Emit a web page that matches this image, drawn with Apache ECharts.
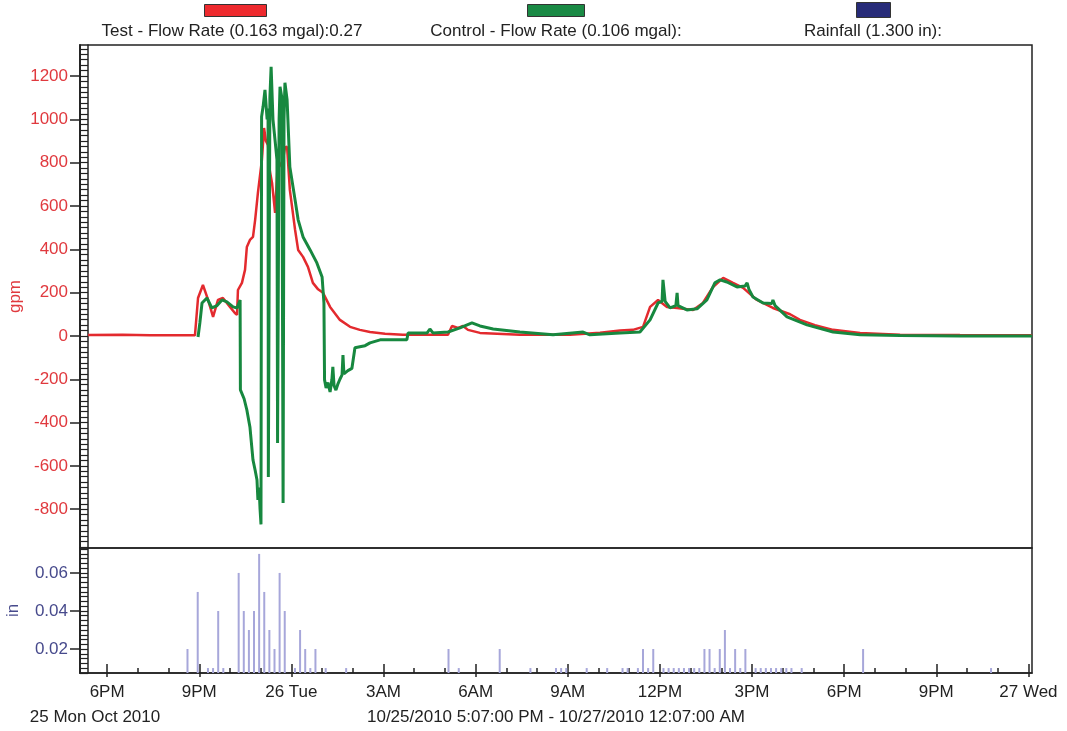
<!DOCTYPE html>
<html><head><meta charset="utf-8">
<script src="https://cdn.jsdelivr.net/npm/echarts@6/dist/echarts.min.js"></script>
<style>html,body{margin:0;padding:0;background:#fff}#c{width:1067px;height:731px}</style>
</head><body><div id="c"></div>
<script>
const FONT = '"Liberation Sans", Arial, Helvetica, sans-serif';

// time is expressed in hours since 10/25/2010 00:00
const startHour = 17 + 7 / 60;   // 10/25/2010 5:07 PM
const endHour = 48 + 7 / 60;     // 10/27/2010 12:07 AM
const xTickHours = [18, 21, 24, 27, 30, 33, 36, 39, 42, 45, 48];
const xTickLabels = ['6PM', '9PM', '26 Tue', '3AM', '6AM', '9AM', '12PM', '3PM', '6PM', '9PM', '27 Wed'];
const gpmTicks = [-800, -600, -400, -200, 0, 200, 400, 600, 800, 1000, 1200];
const gpmRange = [-979, 1343];
const inTicks = [0.02, 0.04, 0.06];
const inRange = [0.0074, 0.0731];

const legendNames = ['Test - Flow Rate (0.163 mgal):0.27', 'Control - Flow Rate (0.106 mgal):', 'Rainfall (1.300 in):'];

// Test - Flow Rate (gpm)
const testHours = [
  17.38, 18.50, 19.40, 20.86, 20.96, 21.12, 21.28, 21.45, 21.61, 21.77,
  22.00, 22.16, 22.23, 22.26, 22.39, 22.49, 22.55, 22.65, 22.75, 22.82,
  22.91, 23.04, 23.11, 23.17, 23.24, 23.30, 23.37, 23.47, 23.56, 23.69,
  23.79, 23.86, 23.95, 24.12, 24.22, 24.38, 24.54, 24.70, 24.87, 25.03,
  25.26, 25.58, 25.91, 26.23, 26.56, 27.05, 27.63, 29.10, 29.23, 29.43,
  29.59, 29.75, 30.14, 31.44, 33.07, 34.05, 34.70, 35.12, 35.45, 35.68,
  35.94, 36.23, 36.56, 37.08, 37.40, 37.73, 38.06, 38.38, 38.71, 39.16,
  39.68, 40.24, 40.56, 41.05, 41.64, 42.52, 43.82, 45.77, 48.12
];
const testGpm = [
  4, 6, 3, 3, 175, 235, 170, 88, 166, 175,
  134, 106, 97, 212, 245, 305, 411, 443, 457, 536,
  660, 813, 960, 900, 880, 760, 706, 568, 813, 780,
  870, 873, 674, 490, 397, 365, 319, 245, 215, 199,
  134, 74, 42, 28, 18, 10, 5, 5, 46, 37,
  46, 28, 14, 5, 5, 15, 25, 28, 42, 134,
  166, 134, 129, 120, 152, 226, 268, 245, 222, 166,
  129, 100, 74, 50, 28, 14, 6, 4, 3
];

// Control - Flow Rate (gpm)
const controlHours = [
  20.96, 21.02, 21.09, 21.25, 21.41, 21.58, 21.74, 21.90, 22.10, 22.23,
  22.33, 22.34, 22.46, 22.55, 22.65, 22.75, 22.82, 22.88, 22.91, 22.95,
  22.98, 23.01, 23.03, 23.08, 23.14, 23.21, 23.24, 23.25, 23.30, 23.34,
  23.40, 23.47, 23.53, 23.55, 23.60, 23.63, 23.69, 23.73, 23.76, 23.79,
  23.86, 23.95, 24.12, 24.22, 24.38, 24.61, 24.83, 25.00, 25.06, 25.08,
  25.13, 25.19, 25.26, 25.32, 25.35, 25.39, 25.45, 25.52, 25.58, 25.65,
  25.68, 25.71, 25.84, 25.97, 26.01, 26.07, 26.10, 26.23, 26.40, 26.56,
  26.89, 27.76, 27.80, 28.42, 28.51, 28.61, 29.10, 29.49, 29.88, 30.14,
  30.57, 31.44, 32.52, 33.50, 33.72, 34.70, 35.35, 35.68, 35.94, 36.07,
  36.10, 36.17, 36.33, 36.52, 36.56, 36.59, 36.88, 37.21, 37.53, 37.79,
  37.96, 38.18, 38.51, 38.77, 38.84, 38.90, 39.03, 39.36, 39.65, 39.68,
  39.75, 40.14, 40.79, 41.64, 42.52, 43.82, 45.77, 48.12
];
const controlGpm = [
  -5, 60, 152, 175, 129, 140, 166, 157, 134, 129,
  166, -249, -290, -342, -420, -573, -620, -665, -757, -700,
  -800, -870, 1012, 1060, 1136, 1000, 1050, -651, 1100, 1242,
  1000, 900, 813, -494, 1000, 1150, 1100, -771, 1000, 1169,
  1090, 780, 628, 536, 457, 397, 337, 272, 152, -203,
  -240, -215, -259, -200, -143, -230, -250, -220, -200, -180,
  -88, -175, -160, -150, -143, -55, -60, -50, -45, -32,
  -18, -18, 14, 14, 32, 14, 18, 37, 60, 46,
  32, 18, 5, 18, 5, 14, 18, 74, 152, 160,
  259, 160, 129, 140, 199, 140, 120, 125, 166, 245,
  259, 249, 226, 230, 245, 215, 180, 152, 150, 166,
  140, 88, 51, 18, 5, 2, 0, 0
];

// Rainfall (in), 10-minute totals, stamped "day hh:mm"
const rainTimes = [
  '25 20:37', '25 20:57', '25 21:17', '25 21:27', '25 21:37', '25 21:47', '25 22:17', '25 22:27', '25 22:37', '25 22:47',
  '25 22:57', '25 23:07', '25 23:17', '25 23:27', '25 23:37', '25 23:47', '26 00:07', '26 00:17', '26 00:27', '26 00:37',
  '26 00:47', '26 01:07', '26 01:47', '26 05:07', '26 05:27', '26 06:47', '26 07:47', '26 08:37', '26 08:47', '26 08:57',
  '26 09:37', '26 10:17', '26 10:47', '26 10:57', '26 11:17', '26 11:27', '26 11:37', '26 11:47', '26 12:07', '26 12:17',
  '26 12:27', '26 12:37', '26 12:47', '26 12:57', '26 13:07', '26 13:17', '26 13:27', '26 13:37', '26 13:47', '26 13:57',
  '26 14:07', '26 14:17', '26 14:27', '26 14:37', '26 14:47', '26 15:07', '26 15:17', '26 15:27', '26 15:37', '26 15:47',
  '26 15:57', '26 16:07', '26 16:17', '26 16:37', '26 18:37', '26 22:47'
];
const rainIn = [
  0.02, 0.05, 0.01, 0.01, 0.04, 0.01, 0.06, 0.04, 0.03, 0.04,
  0.07, 0.05, 0.03, 0.02, 0.06, 0.04, 0.01, 0.03, 0.02, 0.01,
  0.02, 0.01, 0.01, 0.02, 0.01, 0.02, 0.01, 0.01, 0.01, 0.01,
  0.01, 0.01, 0.01, 0.01, 0.01, 0.02, 0.01, 0.02, 0.01, 0.01,
  0.01, 0.01, 0.01, 0.01, 0.01, 0.01, 0.02, 0.02, 0.01, 0.02,
  0.03, 0.01, 0.02, 0.01, 0.02, 0.01, 0.01, 0.01, 0.01, 0.01,
  0.01, 0.01, 0.01, 0.01, 0.02, 0.01
];

function stampToHours(s) {
  const [d, hm] = s.split(' ');
  const [h, m] = hm.split(':').map(Number);
  return (Number(d) - 25) * 24 + h + m / 60;
}
const zip = (a, b) => a.map((v, i) => [v, b[i]]);

const hourTicks = [];
for (let h = 18; h <= 48; h++) hourTicks.push(h);
const gpmRungs = [];
for (let v = -975; v <= 1325; v += 25) gpmRungs.push(v);
const inRungs = [];
for (let v = 0.0075; v <= 0.0726; v += 0.0025) inRungs.push(+v.toFixed(4));

const INK = '#222';
const RED = '#e32a2e';
const GREEN = '#17883f';
const NAVY = '#272b78';
const RED_LABEL = '#e0393e';
const BLUE_LABEL = '#474a8c';
const FS = 17;

const chart = echarts.init(document.getElementById('c'), null, { renderer: 'canvas' });

const ladderAxis = (gridIndex, range, rungs) => ({
  type: 'value', gridIndex, min: range[0], max: range[1], position: 'left', offset: 0,
  axisLine: { show: true, onZero: false, lineStyle: { color: INK, width: 1.5 } },
  axisTick: { show: true, inside: true, length: 8, customValues: rungs, lineStyle: { color: INK, width: 1.2 } },
  axisLabel: { show: false }, splitLine: { show: false }
});
const innerLineAxis = (gridIndex, range) => ({
  type: 'value', gridIndex, min: range[0], max: range[1], position: 'left', offset: -8,
  axisLine: { show: true, onZero: false, lineStyle: { color: INK, width: 1.5 } },
  axisTick: { show: false }, axisLabel: { show: false }, splitLine: { show: false }
});
const bottomTickAxis = (ticks, inside, length) => ({
  type: 'value', gridIndex: 1, min: startHour, max: endHour, position: 'bottom', offset: 0,
  axisLine: { show: false, onZero: false },
  axisTick: { show: true, inside, length, customValues: ticks, lineStyle: { color: INK, width: 1.5 } },
  axisLabel: { show: false }, splitLine: { show: false }
});
const txt = (text, x, y) => ({
  type: 'text', x, y,
  style: { text, fill: INK, font: FS + 'px ' + FONT, align: 'center', verticalAlign: 'middle' }
});

const option = {
  animation: false,
  backgroundColor: '#fff',
  textStyle: { fontFamily: FONT },
  grid: [
    { left: 80, top: 45, width: 952, height: 503, show: true, borderColor: INK, borderWidth: 1.5,
      containLabel: false, outerBoundsMode: 'none' },
    { left: 80, top: 548, width: 952, height: 125, show: true, borderColor: INK, borderWidth: 1.5,
      containLabel: false, outerBoundsMode: 'none' }
  ],
  xAxis: [
    { type: 'value', gridIndex: 0, min: startHour, max: endHour, position: 'bottom', show: false },
    {
      type: 'value', gridIndex: 1, min: startHour, max: endHour, position: 'bottom', offset: 0,
      axisLine: { show: true, onZero: false, lineStyle: { color: INK, width: 1.5 } },
      axisTick: { show: true, inside: true, length: 9, customValues: xTickHours, lineStyle: { color: INK, width: 1.5 } },
      axisLabel: {
        show: true, customValues: xTickHours, margin: 11, fontSize: FS, color: INK, fontFamily: FONT,
        formatter: v => xTickLabels[xTickHours.indexOf(Math.round(v))] || ''
      },
      splitLine: { show: false }
    },
    bottomTickAxis(hourTicks, true, 5),
    bottomTickAxis(xTickHours, false, 4)
  ],
  yAxis: [
    {
      type: 'value', gridIndex: 0, min: gpmRange[0], max: gpmRange[1], position: 'left', offset: 0,
      name: 'gpm', nameLocation: 'middle', nameGap: 56, nameRotate: 90, nameMoveOverlap: false,
      nameTextStyle: { color: RED_LABEL, fontSize: FS, fontFamily: FONT },
      axisLine: { show: true, onZero: false, lineStyle: { color: INK, width: 1.5 } },
      axisTick: { show: true, inside: false, length: 10, customValues: gpmTicks, lineStyle: { color: INK, width: 1.5 } },
      axisLabel: { show: true, customValues: gpmTicks, margin: 12, fontSize: FS, color: RED_LABEL, fontFamily: FONT,
        formatter: v => String(Math.round(v)) },
      splitLine: { show: false }
    },
    ladderAxis(0, gpmRange, gpmRungs),
    innerLineAxis(0, gpmRange),
    {
      type: 'value', gridIndex: 1, min: inRange[0], max: inRange[1], position: 'left', offset: 0,
      name: 'in', nameLocation: 'middle', nameGap: 58, nameRotate: 90, nameMoveOverlap: false,
      nameTextStyle: { color: BLUE_LABEL, fontSize: FS, fontFamily: FONT },
      axisLine: { show: true, onZero: false, lineStyle: { color: INK, width: 1.5 } },
      axisTick: { show: true, inside: false, length: 10, customValues: inTicks, lineStyle: { color: INK, width: 1.5 } },
      axisLabel: { show: true, customValues: inTicks, margin: 12, fontSize: FS, color: BLUE_LABEL, fontFamily: FONT,
        formatter: v => v.toFixed(2) },
      splitLine: { show: false }
    },
    ladderAxis(1, inRange, inRungs),
    innerLineAxis(1, inRange)
  ],
  graphic: [
    { type: 'rect', left: 204, top: 4, shape: { width: 62, height: 12 }, style: { fill: '#ee2a2e', stroke: '#333', lineWidth: 1 } },
    txt(legendNames[0], 232, 31),
    { type: 'rect', left: 527, top: 4, shape: { width: 57, height: 12 }, style: { fill: '#1a8a45', stroke: '#333', lineWidth: 1 } },
    txt(legendNames[1], 556, 31),
    { type: 'rect', left: 856, top: 2, shape: { width: 34, height: 15 }, style: { fill: NAVY, stroke: '#333', lineWidth: 1 } },
    txt(legendNames[2], 873, 31),
    txt('25 Mon Oct 2010', 95, 717),
    txt('10/25/2010 5:07:00 PM - 10/27/2010 12:07:00 AM', 556, 717)
  ],
  series: [
    {
      name: legendNames[2], type: 'bar', xAxisIndex: 1, yAxisIndex: 3,
      data: zip(rainTimes.map(stampToHours), rainIn), barWidth: 2, clip: true,
      itemStyle: { color: '#a7a7da' }, silent: true
    },
    {
      name: legendNames[0], type: 'line', xAxisIndex: 0, yAxisIndex: 0,
      data: zip(testHours, testGpm), showSymbol: false, clip: true,
      lineStyle: { color: RED, width: 2.5 }, itemStyle: { color: RED }
    },
    {
      name: legendNames[1], type: 'line', xAxisIndex: 0, yAxisIndex: 0,
      data: zip(controlHours, controlGpm), showSymbol: false, clip: true,
      lineStyle: { color: GREEN, width: 3 }, itemStyle: { color: GREEN }
    }
  ]
};
chart.setOption(option);
</script>
</body></html>
